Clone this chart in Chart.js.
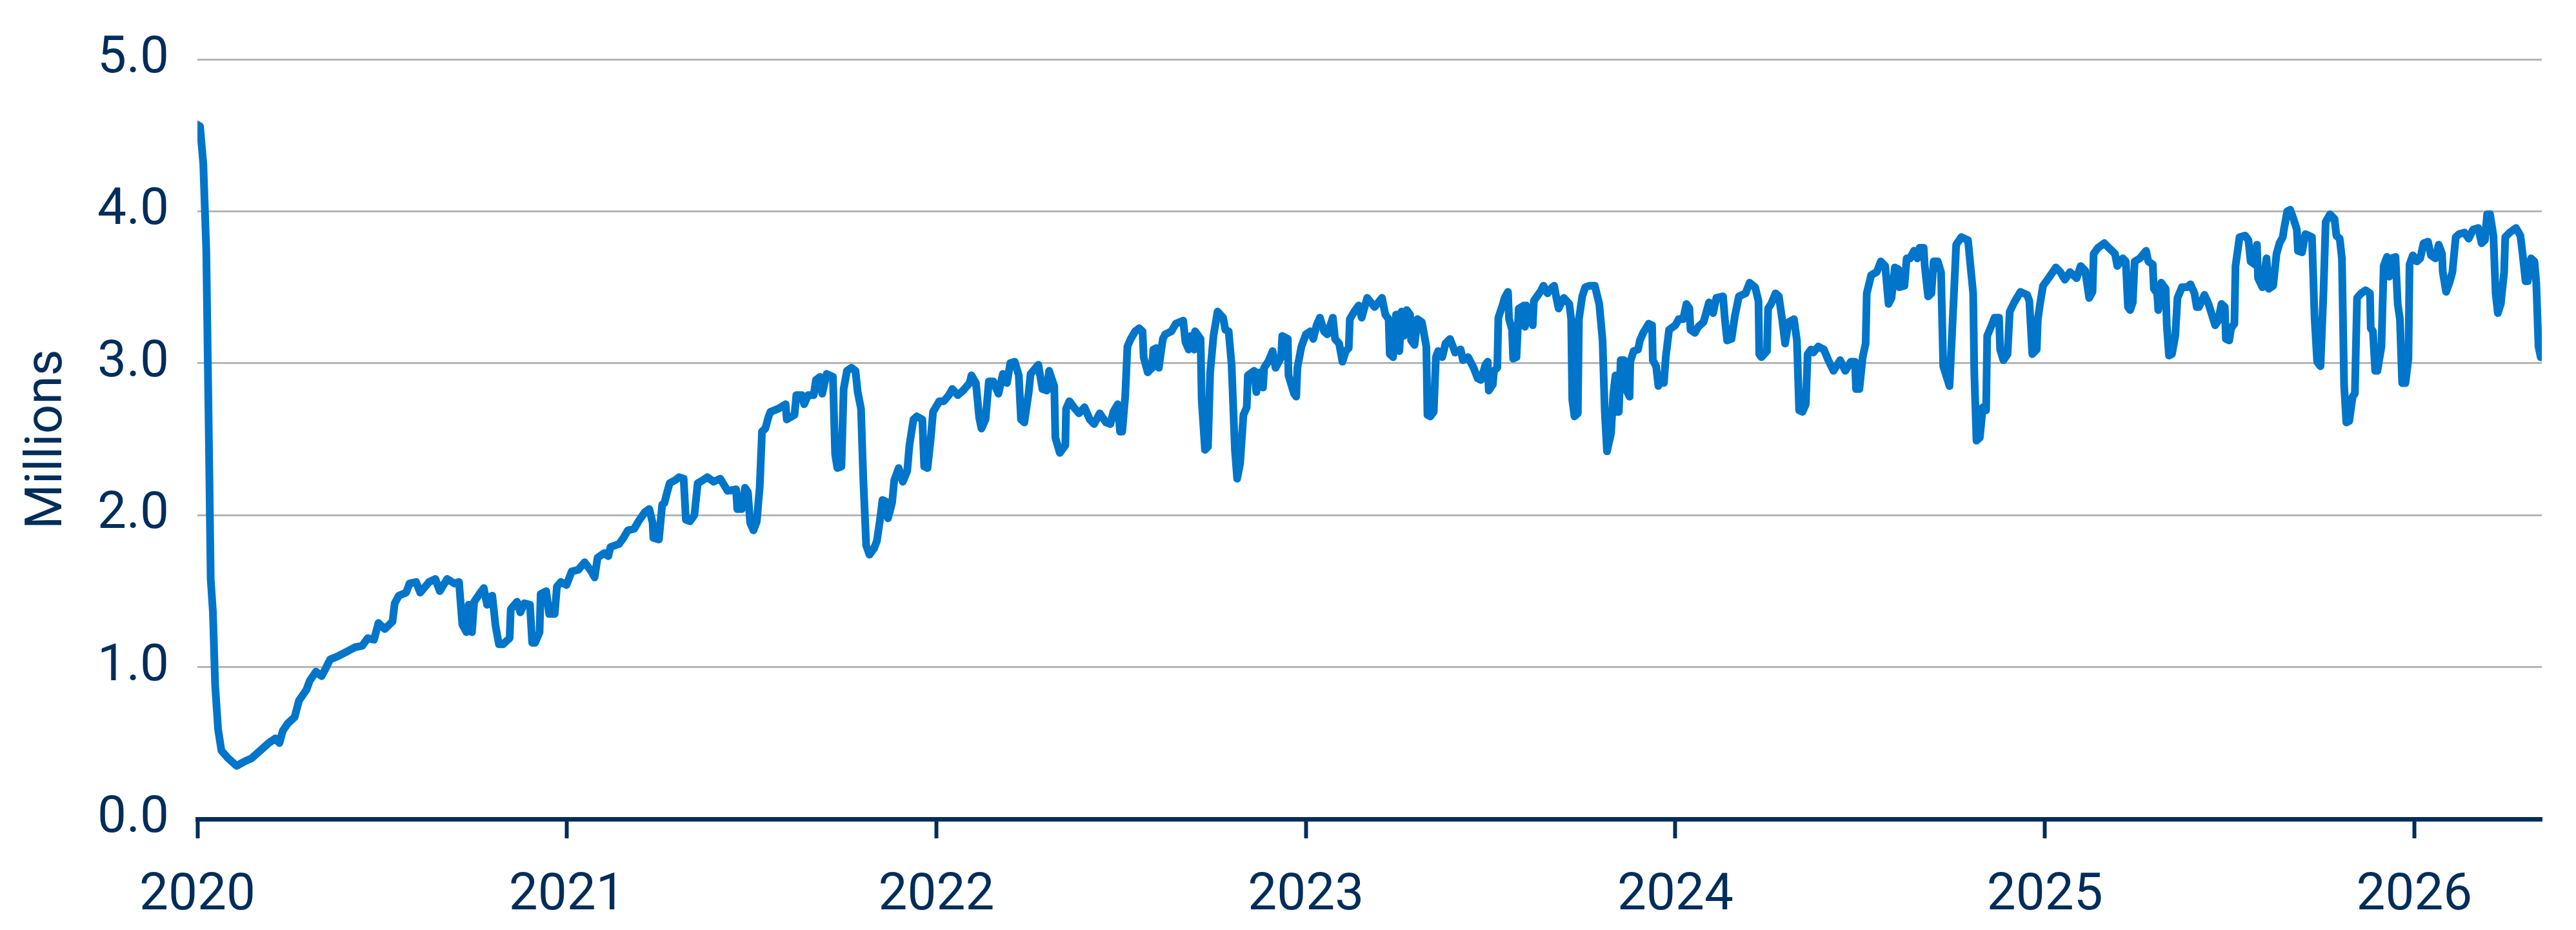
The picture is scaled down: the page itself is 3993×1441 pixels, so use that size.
<!DOCTYPE html>
<html>
<head>
<meta charset="utf-8">
<script src="https://cdn.jsdelivr.net/npm/chart.js@4.4.1/dist/chart.umd.min.js"></script>
<style>
  html, body { margin: 0; padding: 0; background: #ffffff; }
  #wrap { width: 3993px; height: 1441px; }
</style>
</head>
<body>
<div id="wrap"><canvas id="chart" width="3993" height="1441"></canvas></div>
<script>
// x positions in decimal years, values in millions
var dates = [
  2020.000, 2020.007, 2020.016, 2020.024, 2020.030, 2020.036, 2020.042, 2020.048, 2020.056, 2020.065,
  2020.083, 2020.106, 2020.129, 2020.147, 2020.170, 2020.193, 2020.211, 2020.222, 2020.231, 2020.245,
  2020.263, 2020.275, 2020.295, 2020.304, 2020.321, 2020.336, 2020.347, 2020.359, 2020.379, 2020.403,
  2020.426, 2020.446, 2020.461, 2020.478, 2020.490, 2020.507, 2020.528, 2020.534, 2020.545, 2020.565,
  2020.574, 2020.592, 2020.603, 2020.627, 2020.644, 2020.656, 2020.676, 2020.696, 2020.708, 2020.717,
  2020.728, 2020.734, 2020.743, 2020.749, 2020.766, 2020.775, 2020.784, 2020.792,
  2020.798, 2020.807, 2020.816, 2020.827, 2020.845, 2020.848, 2020.865, 2020.874, 2020.885, 2020.900,
  2020.906, 2020.914, 2020.926, 2020.929, 2020.944, 2020.952, 2020.967, 2020.973, 2020.984, 2020.999,
  2021.013, 2021.031, 2021.048, 2021.066, 2021.075, 2021.083, 2021.101, 2021.112, 2021.118, 2021.141,
  2021.153, 2021.165, 2021.182, 2021.194, 2021.211, 2021.223, 2021.232, 2021.234, 2021.249, 2021.258,
  2021.264, 2021.269, 2021.278, 2021.293, 2021.304, 2021.316, 2021.322, 2021.333, 2021.345, 2021.354,
  2021.368, 2021.380, 2021.397, 2021.415, 2021.435, 2021.458, 2021.461, 2021.473, 2021.482, 2021.490,
  2021.496, 2021.505, 2021.514, 2021.522, 2021.528, 2021.537, 2021.546, 2021.551, 2021.572, 2021.592,
  2021.595, 2021.616,
  2021.621, 2021.636, 2021.642, 2021.653, 2021.668, 2021.674, 2021.685, 2021.691, 2021.703, 2021.720,
  2021.726, 2021.732, 2021.743, 2021.749, 2021.758, 2021.770, 2021.781, 2021.787, 2021.796, 2021.802,
  2021.810, 2021.819, 2021.831, 2021.839, 2021.848, 2021.854, 2021.863, 2021.869, 2021.880, 2021.886,
  2021.898, 2021.909, 2021.921, 2021.927, 2021.938, 2021.947, 2021.962, 2021.967, 2021.976, 2021.985,
  2021.991, 2022.008, 2022.020, 2022.034, 2022.043, 2022.058, 2022.072, 2022.090, 2022.095, 2022.107,
  2022.116, 2022.122, 2022.133, 2022.142, 2022.154, 2022.168, 2022.180, 2022.191, 2022.200, 2022.212,
  2022.223, 2022.229, 2022.238, 2022.250, 2022.255, 2022.276, 2022.287, 2022.299, 2022.305, 2022.319,
  2022.322, 2022.334, 2022.349, 2022.351, 2022.360, 2022.372, 2022.386, 2022.401, 2022.415, 2022.427,
  2022.442,
  2022.459, 2022.471, 2022.479, 2022.491, 2022.497, 2022.503, 2022.511, 2022.517, 2022.526, 2022.538,
  2022.549, 2022.558, 2022.561, 2022.572, 2022.584, 2022.587, 2022.596, 2022.602, 2022.607, 2022.613,
  2022.619, 2022.636, 2022.648, 2022.668, 2022.674, 2022.683, 2022.689, 2022.698, 2022.700, 2022.715,
  2022.718, 2022.727, 2022.735, 2022.741, 2022.750, 2022.761, 2022.776, 2022.782, 2022.791, 2022.799,
  2022.808, 2022.814, 2022.822, 2022.831, 2022.840, 2022.843, 2022.860, 2022.866, 2022.875, 2022.884,
  2022.887, 2022.898, 2022.910, 2022.918, 2022.933, 2022.936, 2022.951, 2022.953, 2022.968, 2022.974,
  2022.977, 2022.988, 2023.000, 2023.012, 2023.020, 2023.029, 2023.038, 2023.049, 2023.058, 2023.073,
  2023.079, 2023.090, 2023.099, 2023.108, 2023.116, 2023.119, 2023.131, 2023.143, 2023.151, 2023.166,
  2023.186, 2023.206, 2023.215, 2023.224, 2023.227, 2023.236, 2023.244, 2023.250, 2023.253,
  2023.259, 2023.265, 2023.273, 2023.282, 2023.285, 2023.294, 2023.302, 2023.314, 2023.326, 2023.329,
  2023.337, 2023.346, 2023.352, 2023.358, 2023.369, 2023.378, 2023.390, 2023.398, 2023.404, 2023.419,
  2023.425, 2023.439, 2023.454, 2023.465, 2023.474, 2023.486, 2023.492, 2023.495, 2023.506, 2023.509,
  2023.518, 2023.521, 2023.532, 2023.538, 2023.547, 2023.550, 2023.558, 2023.561, 2023.570, 2023.576,
  2023.590, 2023.593, 2023.596, 2023.614, 2023.617, 2023.637, 2023.643, 2023.654, 2023.663, 2023.672,
  2023.678, 2023.684, 2023.698, 2023.713, 2023.718, 2023.721, 2023.727, 2023.736, 2023.739, 2023.748,
  2023.756, 2023.768, 2023.782, 2023.794, 2023.803, 2023.809, 2023.815, 2023.826, 2023.832, 2023.838,
  2023.841, 2023.847, 2023.852, 2023.861, 2023.864, 2023.876, 2023.878, 2023.887, 2023.899, 2023.904,
  2023.913, 2023.928, 2023.937, 2023.939, 2023.948, 2023.954, 2023.963, 2023.969, 2023.974, 2023.983,
  2024.000, 2024.009, 2024.021, 2024.030, 2024.038, 2024.041, 2024.053, 2024.062, 2024.076, 2024.082,
  2024.091,
  2024.102, 2024.111, 2024.129, 2024.134, 2024.140, 2024.152, 2024.161, 2024.172, 2024.190, 2024.201,
  2024.216, 2024.225, 2024.227, 2024.233, 2024.248, 2024.251, 2024.259, 2024.271, 2024.280, 2024.289,
  2024.297, 2024.306, 2024.321, 2024.329, 2024.335, 2024.344, 2024.353, 2024.358, 2024.367, 2024.373,
  2024.387, 2024.402, 2024.414, 2024.428, 2024.446, 2024.460, 2024.475, 2024.486, 2024.489, 2024.498,
  2024.507, 2024.515, 2024.518, 2024.530, 2024.545, 2024.556, 2024.568, 2024.577, 2024.585, 2024.594,
  2024.603, 2024.606, 2024.620, 2024.626, 2024.635, 2024.646, 2024.655, 2024.661, 2024.672, 2024.675,
  2024.684, 2024.693, 2024.699, 2024.710, 2024.719, 2024.725, 2024.742, 2024.754, 2024.760, 2024.774,
  2024.792, 2024.806, 2024.809, 2024.815, 2024.824, 2024.832, 2024.841, 2024.844, 2024.856, 2024.864,
  2024.876, 2024.879, 2024.888, 2024.899,
  2024.905, 2024.917, 2024.934, 2024.952, 2024.958, 2024.966, 2024.978, 2024.981, 2024.987, 2024.995,
  2025.010, 2025.030, 2025.042, 2025.054, 2025.068, 2025.086, 2025.097, 2025.109, 2025.120, 2025.129,
  2025.132, 2025.144, 2025.161, 2025.173, 2025.190, 2025.196, 2025.211, 2025.219, 2025.225, 2025.231,
  2025.238, 2025.243, 2025.257, 2025.274, 2025.280, 2025.292, 2025.295, 2025.304, 2025.307, 2025.315,
  2025.327, 2025.330, 2025.336, 2025.344, 2025.353, 2025.359, 2025.371, 2025.385, 2025.394, 2025.405,
  2025.411, 2025.417, 2025.432, 2025.443, 2025.461, 2025.469, 2025.478, 2025.487, 2025.490, 2025.499,
  2025.504, 2025.513, 2025.516, 2025.527, 2025.542, 2025.551, 2025.557, 2025.568, 2025.574, 2025.577,
  2025.589, 2025.600, 2025.606, 2025.618, 2025.627, 2025.635, 2025.644, 2025.647, 2025.656, 2025.664,
  2025.673, 2025.682, 2025.685, 2025.696, 2025.705, 2025.714, 2025.723,
  2025.730, 2025.737, 2025.746, 2025.754, 2025.760, 2025.772, 2025.784, 2025.789, 2025.798, 2025.804,
  2025.810, 2025.816, 2025.824, 2025.833, 2025.839, 2025.845, 2025.856, 2025.868, 2025.880, 2025.882,
  2025.888, 2025.894, 2025.900, 2025.911, 2025.917, 2025.926, 2025.932, 2025.938, 2025.949, 2025.955,
  2025.961, 2025.967, 2025.976, 2025.984, 2025.987, 2025.996, 2026.007, 2026.016, 2026.025, 2026.037,
  2026.045, 2026.057, 2026.066, 2026.075, 2026.077, 2026.086, 2026.095, 2026.103, 2026.112, 2026.121,
  2026.136, 2026.147, 2026.159, 2026.173, 2026.182, 2026.191, 2026.197, 2026.205, 2026.214, 2026.220,
  2026.226, 2026.234, 2026.243, 2026.246, 2026.258, 2026.275, 2026.287, 2026.293, 2026.301, 2026.307,
  2026.316, 2026.325, 2026.330, 2026.336, 2026.342, 2026.345
];
var millions = [
  4.57, 4.56, 4.31, 3.74, 2.69, 1.58, 1.36, 0.88, 0.59, 0.45,
  0.40, 0.35, 0.38, 0.40, 0.45, 0.50, 0.53, 0.50, 0.58, 0.63,
  0.67, 0.78, 0.85, 0.91, 0.97, 0.94, 0.99, 1.05, 1.07, 1.10,
  1.13, 1.14, 1.19, 1.18, 1.29, 1.25, 1.30, 1.42, 1.47, 1.49,
  1.55, 1.56, 1.49, 1.56, 1.58, 1.50, 1.58, 1.55, 1.56, 1.28,
  1.23, 1.41, 1.23, 1.43, 1.49, 1.52, 1.41, 1.46,
  1.47, 1.27, 1.15, 1.15, 1.19, 1.38, 1.43, 1.36, 1.42, 1.41,
  1.16, 1.16, 1.23, 1.48, 1.50, 1.35, 1.35, 1.53, 1.56, 1.54,
  1.63, 1.64, 1.69, 1.63, 1.59, 1.72, 1.75, 1.73, 1.79, 1.81,
  1.85, 1.90, 1.91, 1.96, 2.02, 2.04, 1.95, 1.85, 1.84, 2.07,
  2.08, 2.13, 2.21, 2.23, 2.25, 2.24, 1.97, 1.96, 2.00, 2.21,
  2.23, 2.25, 2.22, 2.24, 2.16, 2.17, 2.04, 2.04, 2.18, 2.15,
  1.95, 1.90, 1.96, 2.19, 2.55, 2.57, 2.65, 2.68, 2.70, 2.73,
  2.63, 2.66,
  2.79, 2.79, 2.73, 2.79, 2.79, 2.89, 2.91, 2.80, 2.93, 2.91,
  2.40, 2.31, 2.32, 2.83, 2.95, 2.97, 2.95, 2.81, 2.70, 2.25,
  1.80, 1.74, 1.78, 1.83, 1.98, 2.10, 2.09, 1.98, 2.08, 2.23,
  2.31, 2.22, 2.29, 2.46, 2.63, 2.65, 2.63, 2.32, 2.31, 2.51,
  2.68, 2.75, 2.75, 2.79, 2.83, 2.79, 2.82, 2.87, 2.92, 2.87,
  2.64, 2.57, 2.63, 2.88, 2.88, 2.80, 2.93, 2.87, 3.00, 3.01,
  2.92, 2.63, 2.61, 2.81, 2.93, 2.99, 2.83, 2.82, 2.95, 2.85,
  2.51, 2.41, 2.46, 2.70, 2.75, 2.71, 2.67, 2.71, 2.63, 2.60,
  2.67,
  2.61, 2.60, 2.68, 2.73, 2.55, 2.55, 2.78, 3.11, 3.16, 3.21,
  3.23, 3.21, 3.04, 2.94, 2.97, 3.09, 3.10, 2.97, 3.06, 3.16,
  3.19, 3.21, 3.26, 3.28, 3.14, 3.09, 3.18, 3.09, 3.21, 3.16,
  2.76, 2.43, 2.45, 2.94, 3.18, 3.34, 3.30, 3.22, 3.21, 2.99,
  2.43, 2.24, 2.34, 2.66, 2.71, 2.92, 2.95, 2.81, 2.94, 2.84,
  2.97, 3.01, 3.08, 2.97, 3.04, 3.18, 3.16, 2.92, 2.80, 2.78,
  2.97, 3.11, 3.19, 3.21, 3.16, 3.25, 3.30, 3.21, 3.19, 3.30,
  3.16, 3.13, 3.01, 3.08, 3.10, 3.29, 3.34, 3.38, 3.30, 3.43,
  3.37, 3.43, 3.32, 3.29, 3.06, 3.04, 3.32, 3.32, 3.08,
  3.34, 3.18, 3.35, 3.32, 3.15, 3.12, 3.29, 3.27, 3.11, 2.66,
  2.65, 2.68, 3.04, 3.08, 3.04, 3.13, 3.16, 3.11, 3.07, 3.09,
  3.02, 3.04, 2.97, 2.90, 2.89, 2.99, 3.01, 2.82, 2.86, 2.95,
  2.97, 3.30, 3.38, 3.43, 3.47, 3.29, 3.22, 3.03, 3.04, 3.36,
  3.38, 3.24, 3.38, 3.25, 3.41, 3.48, 3.51, 3.46, 3.49, 3.51,
  3.43, 3.36, 3.43, 3.39, 3.29, 2.76, 2.65, 2.67, 3.29, 3.44,
  3.50, 3.51, 3.51, 3.39, 3.15, 2.68, 2.42, 2.54, 2.80, 2.92,
  2.68, 2.68, 3.02, 3.02, 2.84, 2.78, 3.01, 3.08, 3.09, 3.15,
  3.20, 3.26, 3.25, 3.02, 2.98, 2.85, 2.89, 2.87, 3.04, 3.22,
  3.25, 3.29, 3.29, 3.39, 3.36, 3.22, 3.20, 3.24, 3.27, 3.32,
  3.40,
  3.33, 3.43, 3.44, 3.29, 3.15, 3.16, 3.31, 3.44, 3.46, 3.53,
  3.50, 3.41, 3.06, 3.04, 3.08, 3.36, 3.39, 3.46, 3.44, 3.29,
  3.13, 3.27, 3.29, 3.15, 2.69, 2.68, 2.73, 3.06, 3.09, 3.07,
  3.11, 3.09, 3.02, 2.95, 3.02, 2.95, 3.01, 3.01, 2.83, 2.83,
  3.04, 3.13, 3.46, 3.58, 3.60, 3.67, 3.64, 3.39, 3.43, 3.63,
  3.62, 3.50, 3.51, 3.69, 3.69, 3.74, 3.69, 3.76, 3.76, 3.64,
  3.44, 3.46, 3.67, 3.67, 3.60, 2.98, 2.85, 3.46, 3.78, 3.83,
  3.81, 3.46, 2.94, 2.49, 2.51, 2.71, 2.69, 3.18, 3.25, 3.30,
  3.30, 3.09, 3.02, 3.06,
  3.34, 3.40, 3.47, 3.45, 3.41, 3.06, 3.09, 3.29, 3.39, 3.51,
  3.56, 3.63, 3.60, 3.55, 3.60, 3.56, 3.64, 3.61, 3.43, 3.47,
  3.72, 3.76, 3.79, 3.76, 3.72, 3.64, 3.69, 3.67, 3.37, 3.35,
  3.40, 3.67, 3.69, 3.74, 3.67, 3.65, 3.49, 3.46, 3.35, 3.53,
  3.49, 3.25, 3.05, 3.06, 3.18, 3.43, 3.50, 3.50, 3.52, 3.46,
  3.37, 3.37, 3.45, 3.39, 3.25, 3.28, 3.39, 3.37, 3.16, 3.15,
  3.23, 3.26, 3.64, 3.83, 3.84, 3.81, 3.67, 3.65, 3.78, 3.56,
  3.50, 3.69, 3.49, 3.51, 3.72, 3.79, 3.83, 3.88, 4.00, 4.01,
  3.95, 3.88, 3.74, 3.73, 3.85, 3.84, 3.83,
  3.30, 3.01, 2.98, 3.46, 3.93, 3.98, 3.95, 3.84, 3.82, 3.69,
  2.85, 2.61, 2.62, 2.78, 2.80, 3.43, 3.46, 3.48, 3.46, 3.23,
  3.21, 2.95, 2.95, 3.11, 3.64, 3.70, 3.57, 3.69, 3.70, 3.39,
  3.29, 2.87, 2.87, 3.03, 3.65, 3.71, 3.67, 3.69, 3.79, 3.80,
  3.71, 3.69, 3.78, 3.72, 3.60, 3.47, 3.53, 3.60, 3.83, 3.85,
  3.86, 3.82, 3.88, 3.89, 3.79, 3.81, 3.98, 3.98, 3.84, 3.46,
  3.33, 3.39, 3.60, 3.83, 3.86, 3.89, 3.84, 3.72, 3.54, 3.54,
  3.69, 3.67, 3.53, 3.11, 3.04, 3.09
];
var yearTicks = [2020, 2021, 2022, 2023, 2024, 2025, 2026];
var yTicks = [0, 1, 2, 3, 4, 5];

var navy = '#002d5a';
var points = [];
for (var i = 0; i < dates.length; i++) {
  points.push({ x: dates[i], y: millions[i] });
}

var ctx = document.getElementById('chart');
var chart = new Chart(ctx, {
  type: 'line',
  data: {
    datasets: [{
      label: 'Millions',
      data: points,
      borderColor: '#0075c9',
      borderWidth: 12,
      borderJoinStyle: 'round',
      borderCapStyle: 'round',
      pointRadius: 0,
      tension: 0,
      fill: false
    }]
  },
  options: {
    responsive: false,
    animation: false,
    devicePixelRatio: 1,
    layout: { padding: { top: 84, right: 53, bottom: 0, left: 0 } },
    plugins: {
      legend: { display: false },
      tooltip: { enabled: false }
    },
    scales: {
      x: {
        type: 'linear',
        min: 2020,
        max: 2026.345,
        afterFit: function(scale) { scale.height = 172; },
        afterBuildTicks: function(scale) {
          scale.ticks = yearTicks.map(function(v) { return { value: v }; });
        },
        border: { display: true, color: navy, width: 7 },
        grid: {
          display: true,
          drawOnChartArea: false,
          drawTicks: true,
          tickLength: 30,
          tickColor: navy,
          tickWidth: 6
        },
        ticks: {
          padding: 42,
          color: navy,
          maxRotation: 0,
          font: { family: 'Roboto', size: 80 },
          callback: function(v) { return String(v); }
        }
      },
      y: {
        min: 0,
        max: 5,
        afterFit: function(scale) { scale.width = 306; },
        afterBuildTicks: function(scale) {
          scale.ticks = yTicks.map(function(v) { return { value: v }; });
        },
        border: { display: false },
        grid: {
          color: '#b5b5b5',
          lineWidth: 3,
          drawTicks: false
        },
        ticks: {
          padding: 44,
          color: navy,
          font: { family: 'Roboto', size: 80 },
          callback: function(v) { return v.toFixed(1); }
        },
        title: {
          display: true,
          text: 'Millions',
          color: navy,
          padding: { top: 27, bottom: 0 },
          font: { family: 'Roboto', size: 80 }
        }
      }
    }
  }
});
</script>
</body>
</html>
